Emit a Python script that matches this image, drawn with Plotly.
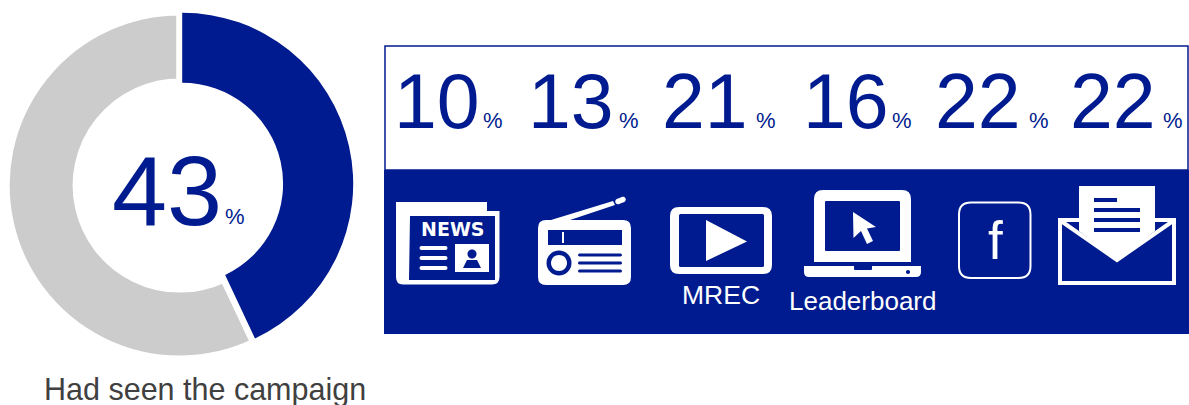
import math
import plotly.graph_objects as go

W, H = 1189, 405
NAVY = "#001B8F"
GREY = "#CCCCCC"
CLEAR = "rgba(0,0,0,0)"
FONT = "Liberation Sans, Arial, sans-serif"

# ---- data ----
donut_labels = ["Had seen the campaign", "Had not seen the campaign"]
donut_values = [43, 57]
channel_names = ["Newspaper", "Radio", "MREC", "Leaderboard", "Facebook", "Email"]
channel_values = [10, 13, 21, 16, 22, 22]
caption = "Had seen the campaign"

# ---- layout helpers (pixel space -> paper space) ----
def px(x):
    return x / W

def py(y):
    return 1 - y / H

def P(x, y):
    return f"{px(x):.5f},{py(y):.5f}"

def poly(pts):
    return "M" + " L".join(P(*p) for p in pts) + " Z"

def rrect(x0, y0, x1, y1, tl=0, tr=None, br=None, bl=None):
    tr = tl if tr is None else tr
    br = tl if br is None else br
    bl = tl if bl is None else bl
    d = "M" + P(x0 + tl, y0) + " L" + P(x1 - tr, y0)
    if tr: d += " Q" + P(x1, y0) + " " + P(x1, y0 + tr)
    d += " L" + P(x1, y1 - br)
    if br: d += " Q" + P(x1, y1) + " " + P(x1 - br, y1)
    d += " L" + P(x0 + bl, y1)
    if bl: d += " Q" + P(x0, y1) + " " + P(x0, y1 - bl)
    d += " L" + P(x0, y0 + tl)
    if tl: d += " Q" + P(x0, y0) + " " + P(x0 + tl, y0)
    return d + " Z"

def circle(cx, cy, r):
    n = 32
    return poly([(cx + r * math.cos(2 * math.pi * i / n), cy + r * math.sin(2 * math.pi * i / n)) for i in range(n)])

shapes = []

def fill(path, color="white"):
    shapes.append(dict(type="path", xref="paper", yref="paper", path=path,
                       fillcolor=color, line=dict(width=0)))

def stroke(path, width, color="white"):
    shapes.append(dict(type="path", xref="paper", yref="paper", path=path,
                       fillcolor=CLEAR, line=dict(width=width, color=color)))

def line(pts, width, color="white"):
    d = "M" + " L".join(P(*p) for p in pts)
    shapes.append(dict(type="path", xref="paper", yref="paper", path=d,
                       fillcolor=CLEAR, line=dict(width=width, color=color)))

def hbar(x0, x1, y, h, color="white"):
    fill(rrect(x0, y - h / 2, x1, y + h / 2, h / 2), color)

# panel
stroke(rrect(385, 46, 1188, 170), 1.5, NAVY)
fill(rrect(384, 170, 1189, 334), NAVY)

# newspaper
fill("M" + P(396, 202) + " L" + P(487, 202) + " L" + P(487, 211) + " L" + P(499.5, 211)
     + " L" + P(499.5, 277) + " Q" + P(499.5, 284.5) + " " + P(492, 284.5)
     + " L" + P(403, 284.5) + " Q" + P(396, 284.5) + " " + P(396, 277) + " Z")
fill(poly([(410, 216), (495, 216), (495, 280), (409, 280)]), NAVY)
for y in (248, 258, 268):
    hbar(419.5, 447.5, y, 4)
fill(rrect(455, 244, 489, 272))
fill(circle(472, 254, 4.5), NAVY)
fill(poly([(463, 268), (467, 260), (477, 260), (481, 268)]), NAVY)

# radio
fill(rrect(538, 220, 631, 285, 8))
fill(poly([(551, 220), (570, 220), (615, 205), (613, 201)]))
line([(618, 201.5), (623, 199.5)], 5.5)
fill(circle(618, 201.5, 2.75))
fill(circle(623, 199.5, 2.75))
fill(rrect(548, 230, 622, 245), NAVY)
line([(563, 232), (563, 243)], 2)
fill(circle(559, 263, 12.5), NAVY)
fill(circle(559, 263, 8))
for y in (255, 263, 271):
    hbar(578, 622, y, 3, NAVY)

# video player
fill(rrect(670, 207, 772, 274, 9))
fill(rrect(679, 214, 764, 267, 1.5), NAVY)
fill(poly([(706, 220), (706, 261), (747, 241.5)]))

# laptop
fill(rrect(814, 190, 911, 262, 9, 9, 0, 0))
fill(rrect(825, 201, 900, 251, 1), NAVY)
fill(rrect(804, 266, 921, 277, 0, 0, 5, 5))
fill(rrect(854, 266, 872, 270, 0, 0, 1, 1), NAVY)
fill(circle(908, 272, 2), NAVY)
fill(poly([(853, 212), (876, 227), (867, 228.5), (873, 241), (867, 244), (861, 231), (853.5, 238)]))

# facebook tile
stroke(rrect(959, 202.5, 1030.5, 278, 12), 2)

# envelope
fill(poly([(1079, 186), (1155, 186), (1155, 231), (1117, 260), (1079, 231)]))
stroke(rrect(1060, 220, 1174, 283), 4)
line([(1061, 221), (1117, 260), (1173, 221)], 4)
line([(1094, 200), (1117, 200)], 4, NAVY)
for y in (210, 220, 230):
    line([(1094, y), (1140, y)], 4, NAVY)

# ---- text ----
ann = []

def text(x, y, s, size, color, anchor="center", family=FONT):
    ann.append(dict(x=px(x), y=py(y), xref="paper", yref="paper", text=s, showarrow=False,
                    xanchor=anchor, yanchor="middle", align=anchor,
                    font=dict(size=size, color=color, family=family),
                    borderpad=0, borderwidth=0))

num_left = [394, 528, 662, 803, 935, 1070]
pct_right = [503, 639, 776, 912, 1049, 1183]
for v, l, r in zip(channel_values, num_left, pct_right):
    text(l, 101, str(v), 77, NAVY, "left")
    text(r, 121, "%", 22, NAVY, "right")

text(112, 190, str(donut_values[0]), 99, NAVY, "left")
text(245, 216, "%", 22, NAVY, "right")
text(205, 389, caption, 30.5, "#404040")
text(721, 295, channel_names[2], 26.5, "white")
text(862, 301, channel_names[3], 26, "white")
text(452.5, 229, "<b>NEWS</b>", 19, "white", family="DejaVu Sans, sans-serif")
text(995, 240, "f", 53, "white")

# ---- donut: the two slices sit on slightly offset rings ----
def ring(cx, cy, r, hole, colors, line_w):
    return go.Pie(
        labels=donut_labels, values=donut_values, hole=hole, sort=False,
        direction="clockwise", rotation=0, textinfo="none", hoverinfo="skip", showlegend=False,
        marker=dict(colors=colors, line=dict(color="white", width=line_w)),
        domain=dict(x=[px(cx - r), px(cx + r)], y=[py(cy + r), py(cy - r)]),
    )

fig = go.Figure([
    ring(179.7, 185.5, 173.5, 0.597, [CLEAR, GREY], 7),
    ring(182.2, 183.7, 171, 0.59, [NAVY, CLEAR], 0),
])
fig.update_layout(width=W, height=H, autosize=False, margin=dict(l=0, r=0, t=0, b=0),
                  paper_bgcolor="white", plot_bgcolor="white", shapes=shapes, annotations=ann,
                  showlegend=False)
fig.write_html("out.html", config=dict(displayModeBar=False),
               post_script="document.body.style.margin='0';document.documentElement.style.overflow='hidden';")
